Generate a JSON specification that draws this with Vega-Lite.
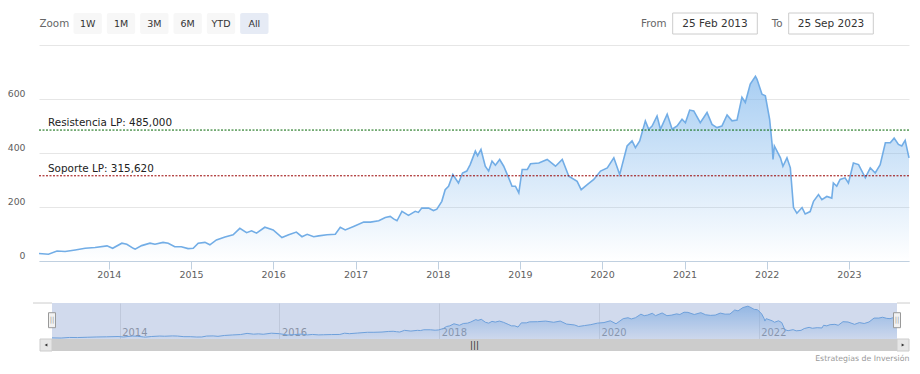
{
  "$schema": "https://vega.github.io/schema/vega-lite/v6.json",
  "background": "white",
  "padding": {"left": 7, "top": 12, "right": 0, "bottom": 0},
  "config": {
    "view": {"stroke": null},
    "font": "DejaVu Sans",
    "axis": {"labelFont": "DejaVu Sans", "titleFont": "DejaVu Sans"},
    "title": {"font": "DejaVu Sans"}
  },
  "datasets": {
    "prices": [
      {"date": "2013-02-25", "close": 28}, {"date": "2013-04-08", "close": 25}, {"date": "2013-05-16", "close": 37},
      {"date": "2013-06-21", "close": 35}, {"date": "2013-08-05", "close": 41}, {"date": "2013-09-18", "close": 47},
      {"date": "2013-11-01", "close": 50}, {"date": "2013-12-24", "close": 56}, {"date": "2014-01-18", "close": 47},
      {"date": "2014-02-28", "close": 66}, {"date": "2014-03-22", "close": 62}, {"date": "2014-04-20", "close": 47},
      {"date": "2014-04-28", "close": 44}, {"date": "2014-05-27", "close": 57}, {"date": "2014-07-03", "close": 66},
      {"date": "2014-07-25", "close": 62}, {"date": "2014-08-30", "close": 69}, {"date": "2014-09-22", "close": 66},
      {"date": "2014-10-21", "close": 53}, {"date": "2014-11-19", "close": 53}, {"date": "2014-12-19", "close": 46},
      {"date": "2015-01-11", "close": 47}, {"date": "2015-02-02", "close": 66}, {"date": "2015-03-04", "close": 69},
      {"date": "2015-03-26", "close": 60}, {"date": "2015-04-24", "close": 78}, {"date": "2015-06-01", "close": 89},
      {"date": "2015-07-07", "close": 97}, {"date": "2015-08-06", "close": 121}, {"date": "2015-09-05", "close": 105},
      {"date": "2015-09-27", "close": 112}, {"date": "2015-10-19", "close": 103}, {"date": "2015-11-25", "close": 125},
      {"date": "2016-01-01", "close": 115}, {"date": "2016-02-09", "close": 87}, {"date": "2016-03-10", "close": 97},
      {"date": "2016-04-13", "close": 107}, {"date": "2016-05-08", "close": 90}, {"date": "2016-05-31", "close": 99},
      {"date": "2016-06-29", "close": 90}, {"date": "2016-07-21", "close": 93}, {"date": "2016-08-27", "close": 97},
      {"date": "2016-10-03", "close": 99}, {"date": "2016-10-25", "close": 125}, {"date": "2016-11-16", "close": 115},
      {"date": "2016-12-23", "close": 128}, {"date": "2017-02-06", "close": 144}, {"date": "2017-03-08", "close": 144},
      {"date": "2017-04-14", "close": 149}, {"date": "2017-05-13", "close": 161}, {"date": "2017-06-04", "close": 165},
      {"date": "2017-06-19", "close": 156}, {"date": "2017-07-04", "close": 149}, {"date": "2017-07-26", "close": 184},
      {"date": "2017-08-24", "close": 169}, {"date": "2017-09-23", "close": 184}, {"date": "2017-10-07", "close": 180},
      {"date": "2017-10-22", "close": 196}, {"date": "2017-11-21", "close": 196}, {"date": "2017-12-13", "close": 187},
      {"date": "2017-12-28", "close": 192}, {"date": "2018-01-19", "close": 221}, {"date": "2018-02-03", "close": 264},
      {"date": "2018-02-18", "close": 277}, {"date": "2018-03-09", "close": 320}, {"date": "2018-04-03", "close": 289},
      {"date": "2018-04-21", "close": 326}, {"date": "2018-05-10", "close": 333}, {"date": "2018-05-25", "close": 357},
      {"date": "2018-06-17", "close": 407}, {"date": "2018-06-27", "close": 390}, {"date": "2018-07-12", "close": 413},
      {"date": "2018-07-31", "close": 351}, {"date": "2018-08-15", "close": 333}, {"date": "2018-08-30", "close": 370},
      {"date": "2018-09-14", "close": 355}, {"date": "2018-10-03", "close": 376}, {"date": "2018-10-21", "close": 351},
      {"date": "2018-11-12", "close": 308}, {"date": "2018-11-27", "close": 277}, {"date": "2018-12-12", "close": 277},
      {"date": "2018-12-27", "close": 252}, {"date": "2019-01-11", "close": 339}, {"date": "2019-02-03", "close": 339},
      {"date": "2019-02-17", "close": 360}, {"date": "2019-03-26", "close": 363}, {"date": "2019-05-02", "close": 376},
      {"date": "2019-06-08", "close": 351}, {"date": "2019-07-08", "close": 376}, {"date": "2019-08-06", "close": 314},
      {"date": "2019-09-12", "close": 295}, {"date": "2019-09-30", "close": 264}, {"date": "2019-10-27", "close": 283},
      {"date": "2019-11-25", "close": 302}, {"date": "2019-12-25", "close": 333}, {"date": "2020-01-24", "close": 345},
      {"date": "2020-02-22", "close": 382}, {"date": "2020-03-19", "close": 320}, {"date": "2020-04-21", "close": 426},
      {"date": "2020-05-13", "close": 445}, {"date": "2020-05-28", "close": 420}, {"date": "2020-06-16", "close": 445},
      {"date": "2020-07-11", "close": 519}, {"date": "2020-07-26", "close": 488}, {"date": "2020-08-10", "close": 500},
      {"date": "2020-09-01", "close": 537}, {"date": "2020-09-16", "close": 488}, {"date": "2020-10-16", "close": 544},
      {"date": "2020-11-07", "close": 488}, {"date": "2020-11-29", "close": 500}, {"date": "2020-12-21", "close": 525},
      {"date": "2021-01-05", "close": 512}, {"date": "2021-01-24", "close": 559}, {"date": "2021-02-11", "close": 556},
      {"date": "2021-03-12", "close": 512}, {"date": "2021-04-11", "close": 550}, {"date": "2021-05-03", "close": 506},
      {"date": "2021-05-25", "close": 494}, {"date": "2021-06-16", "close": 500}, {"date": "2021-07-09", "close": 541},
      {"date": "2021-07-31", "close": 519}, {"date": "2021-08-22", "close": 522}, {"date": "2021-09-13", "close": 606},
      {"date": "2021-09-28", "close": 587}, {"date": "2021-10-20", "close": 655}, {"date": "2021-11-12", "close": 684},
      {"date": "2021-11-19", "close": 673}, {"date": "2021-12-11", "close": 618}, {"date": "2021-12-26", "close": 612},
      {"date": "2022-01-14", "close": 525}, {"date": "2022-01-25", "close": 432}, {"date": "2022-01-29", "close": 376},
      {"date": "2022-02-04", "close": 426}, {"date": "2022-03-03", "close": 382}, {"date": "2022-03-14", "close": 351},
      {"date": "2022-04-01", "close": 382}, {"date": "2022-04-16", "close": 345}, {"date": "2022-04-30", "close": 198},
      {"date": "2022-05-15", "close": 177}, {"date": "2022-06-07", "close": 198}, {"date": "2022-06-21", "close": 174},
      {"date": "2022-07-13", "close": 183}, {"date": "2022-07-28", "close": 221}, {"date": "2022-08-19", "close": 246},
      {"date": "2022-09-03", "close": 227}, {"date": "2022-09-25", "close": 239}, {"date": "2022-10-17", "close": 233},
      {"date": "2022-10-24", "close": 289}, {"date": "2022-11-08", "close": 277}, {"date": "2022-11-23", "close": 302},
      {"date": "2022-12-15", "close": 308}, {"date": "2022-12-30", "close": 289}, {"date": "2023-01-21", "close": 363},
      {"date": "2023-02-13", "close": 357}, {"date": "2023-03-15", "close": 308}, {"date": "2023-04-06", "close": 345},
      {"date": "2023-04-28", "close": 326}, {"date": "2023-05-20", "close": 357}, {"date": "2023-06-12", "close": 438},
      {"date": "2023-07-04", "close": 438}, {"date": "2023-07-21", "close": 455}, {"date": "2023-08-09", "close": 432},
      {"date": "2023-08-24", "close": 426}, {"date": "2023-09-08", "close": 447}, {"date": "2023-09-25", "close": 382}
    ]
  },
  "bounds": "flush",
  "spacing": 11,
  "vconcat": [
    {
      "width": 870,
      "height": 21,
      "resolve": {"scale": {"x": "independent"}},
      "layer": [
        {
          "data": {"values": [{"label": "Zoom"}, {"label": "1W"}, {"label": "1M"}, {"label": "3M"}, {"label": "6M"}, {"label": "YTD"}, {"label": "All"}]},
          "layer": [
            {
              "transform": [{"filter": "datum.label !== 'Zoom'"}],
              "mark": {"type": "rect", "cornerRadius": 2},
              "encoding": {
                "x": {"field": "label", "type": "nominal", "sort": null,
                  "scale": {"type": "band", "domain": ["Zoom", "1W", "1M", "3M", "6M", "YTD", "All"], "range": [-1.3, 232], "paddingInner": 0.15, "paddingOuter": 0.075},
                  "axis": null},
                "color": {"condition": {"test": "datum.label === 'All'", "value": "#e6ebf5"}, "value": "#f7f7f7"}
              }
            },
            {
              "mark": {"type": "text", "font": "DejaVu Sans", "baseline": "middle"},
              "encoding": {
                "x": {"field": "label", "type": "nominal", "sort": null, "axis": null},
                "text": {"field": "label"},
                "color": {"condition": {"test": "datum.label === 'Zoom'", "value": "#666666"}, "value": "#333333"},
                "fontWeight": {"condition": {"test": "datum.label === 'All'", "value": "bold"}, "value": "normal"},
                "size": {"condition": {"test": "datum.label === 'Zoom'", "value": 10.3}, "value": 9.5}
              }
            }
          ]
        },
        {
          "data": {"values": [{"label": "From", "date": "25 Feb 2013"}, {"label": "To", "date": "25 Sep 2023"}]},
          "layer": [
            {
              "mark": {"type": "rect", "width": 84.6, "fill": "#ffffff", "stroke": "#cccccc", "strokeWidth": 1},
              "encoding": {
                "x": {"field": "label", "type": "nominal", "sort": null,
                  "scale": {"type": "point", "domain": ["From", "To"], "range": [676, 792], "padding": 0},
                  "axis": null}
              }
            },
            {
              "mark": {"type": "text", "font": "DejaVu Sans", "fontSize": 10.5, "color": "#333333", "baseline": "middle"},
              "encoding": {
                "x": {"field": "label", "type": "nominal", "sort": null, "axis": null},
                "text": {"field": "date"}
              }
            },
            {
              "mark": {"type": "text", "font": "DejaVu Sans", "fontSize": 10.3, "color": "#666666", "align": "right", "dx": -48.5, "baseline": "middle"},
              "encoding": {
                "x": {"field": "label", "type": "nominal", "sort": null, "axis": null},
                "text": {"field": "label"}
              }
            }
          ]
        }
      ]
    },
    {
      "bounds": "flush",
      "spacing": 42,
      "vconcat": [
        {
          "width": 870,
          "height": 216,
          "layer": [
            {
              "data": {"name": "prices"},
              "mark": {
                "type": "area",
                "line": {"color": "#72ade6", "strokeWidth": 1.6},
                "color": {"gradient": "linear", "x1": 0, "y1": 0, "x2": 0, "y2": 1,
                  "stops": [{"offset": 0, "color": "rgba(124,181,236,0.95)"}, {"offset": 1, "color": "rgba(124,181,236,0)"}]}
              },
              "encoding": {
                "x": {"field": "date", "type": "temporal",
                  "scale": {"domain": [{"year": 2013, "month": 2, "date": 25}, {"year": 2023, "month": 9, "date": 25}]},
                  "axis": {"title": null, "format": "%Y", "tickCount": {"interval": "year", "step": 1}, "grid": false,
                    "domainColor": "#c0d0e0", "tickColor": "#c0d0e0", "tickSize": 8, "labelPadding": 0,
                    "labelColor": "#606060", "labelFontSize": 9.5, "labelFlush": false, "labelOverlap": false}},
                "y": {"field": "close", "type": "quantitative",
                  "scale": {"domain": [0, 800], "nice": false},
                  "axis": {"title": null, "values": [0, 200, 400, 600, 800], "labelExpr": "datum.value == 800 ? '' : datum.label",
                    "grid": true, "gridColor": "#e6e6e6", "domain": false, "ticks": false, "labelPadding": 14,
                    "labelBaseline": "alphabetic", "labelOffset": -3, "labelColor": "#606060", "labelFontSize": 9.3}}
              }
            },
            {
              "data": {"values": [{"label": "Resistencia LP: 485,000", "value": 485}, {"label": "Soporte LP: 315,620", "value": 315.62}]},
              "layer": [
                {
                  "mark": {"type": "rule", "strokeDash": [2, 1.5], "strokeWidth": 1},
                  "encoding": {
                    "y": {"field": "value", "type": "quantitative"},
                    "color": {"field": "label", "type": "nominal",
                      "scale": {"domain": ["Resistencia LP: 485,000", "Soporte LP: 315,620"], "range": ["#006400", "#990000"]},
                      "legend": null}
                  }
                },
                {
                  "mark": {"type": "text", "align": "left", "baseline": "alphabetic", "dx": 9, "dy": -4, "font": "DejaVu Sans", "fontSize": 10.4, "color": "#222222"},
                  "encoding": {
                    "x": {"datum": {"year": 2013, "month": 2, "date": 25}, "type": "temporal"},
                    "y": {"field": "value", "type": "quantitative"},
                    "text": {"field": "label"}
                  }
                }
              ]
            }
          ]
        },
        {
          "bounds": "flush",
          "spacing": 0,
          "vconcat": [
            {
              "width": 870,
              "height": 36,
              "layer": [
                {
                  "data": {"name": "prices"},
                  "mark": {
                    "type": "area",
                    "line": {"color": "#72ade6", "strokeWidth": 1},
                    "color": {"gradient": "linear", "x1": 0, "y1": 0, "x2": 0, "y2": 1,
                      "stops": [{"offset": 0, "color": "rgba(124,181,236,0.95)"}, {"offset": 1, "color": "rgba(124,181,236,0.05)"}]}
                  },
                  "encoding": {
                    "x": {"field": "date", "type": "temporal",
                      "scale": {"domain": [{"year": 2013, "month": 2, "date": 25}, {"year": 2023, "month": 9, "date": 25}], "range": [13, 858]},
                      "axis": {"title": null, "orient": "bottom", "format": "%Y", "tickCount": {"interval": "year", "step": 2},
                        "grid": true, "gridColor": "#e6e6e6", "domain": false, "ticks": false, "tickSize": 0,
                        "labelAlign": "left", "labelBaseline": "alphabetic", "labelPadding": -4, "labelOffset": 2,
                        "labelColor": "#999999", "labelFontSize": 9.9, "labelFlush": false, "labelOverlap": false}},
                    "y": {"field": "close", "type": "quantitative", "scale": {"domain": [5, 750], "zero": false, "nice": false}, "axis": null}
                  }
                },
                {
                  "data": {"values": [{}]},
                  "layer": [
                    {
                      "mark": {"type": "rect", "color": "#6685c2", "opacity": 0.3},
                      "encoding": {
                        "x": {"datum": {"year": 2013, "month": 2, "date": 25}, "type": "temporal"},
                        "x2": {"datum": {"year": 2023, "month": 9, "date": 25}}
                      }
                    },
                    {
                      "mark": {"type": "rule", "color": "#cccccc", "strokeWidth": 1, "xOffset": -19},
                      "encoding": {
                        "x": {"datum": {"year": 2013, "month": 2, "date": 25}, "type": "temporal"},
                        "x2": {"datum": {"year": 2013, "month": 2, "date": 25}},
                        "y": {"datum": 750}
                      }
                    },
                    {
                      "mark": {"type": "rule", "color": "#cccccc", "strokeWidth": 1, "x2Offset": 13},
                      "encoding": {
                        "x": {"datum": {"year": 2023, "month": 9, "date": 25}, "type": "temporal"},
                        "x2": {"datum": {"year": 2023, "month": 9, "date": 25}},
                        "y": {"datum": 750}
                      }
                    },
                    {
                      "mark": {"type": "rect", "fill": "#f2f2f2", "stroke": "#999999", "strokeWidth": 1, "xOffset": -3.5, "x2Offset": 3.5},
                      "encoding": {
                        "x": {"datum": {"year": 2013, "month": 2, "date": 25}, "type": "temporal"},
                        "x2": {"datum": {"year": 2013, "month": 2, "date": 25}},
                        "y": {"datum": 549},
                        "y2": {"datum": 239}
                      }
                    },
                    {
                      "mark": {"type": "rect", "fill": "#f2f2f2", "stroke": "#999999", "strokeWidth": 1, "xOffset": -3.5, "x2Offset": 3.5},
                      "encoding": {
                        "x": {"datum": {"year": 2023, "month": 9, "date": 25}, "type": "temporal"},
                        "x2": {"datum": {"year": 2023, "month": 9, "date": 25}},
                        "y": {"datum": 549},
                        "y2": {"datum": 239}
                      }
                    },
                    {
                      "mark": {"type": "text", "text": "||", "fontSize": 7, "color": "#999999", "baseline": "middle"},
                      "encoding": {
                        "x": {"datum": {"year": 2013, "month": 2, "date": 25}, "type": "temporal"},
                        "y": {"datum": 394}
                      }
                    },
                    {
                      "mark": {"type": "text", "text": "||", "fontSize": 7, "color": "#999999", "baseline": "middle"},
                      "encoding": {
                        "x": {"datum": {"year": 2023, "month": 9, "date": 25}, "type": "temporal"},
                        "y": {"datum": 394}
                      }
                    }
                  ]
                }
              ]
            },
            {
              "width": 870,
              "height": 12,
              "title": {"text": "Estrategias de Inversión", "orient": "bottom", "anchor": "end", "fontSize": 7.8, "color": "#999999", "fontWeight": "normal", "offset": 3},
              "data": {"values": [{}]},
              "layer": [
                {
                  "mark": {"type": "rect", "color": "#cccccc"},
                  "encoding": {
                    "x": {"datum": {"year": 2013, "month": 2, "date": 25}, "type": "temporal",
                      "scale": {"domain": [{"year": 2013, "month": 2, "date": 25}, {"year": 2023, "month": 9, "date": 25}], "range": [13, 858]},
                      "axis": null},
                    "x2": {"datum": {"year": 2023, "month": 9, "date": 25}}
                  }
                },
                {
                  "mark": {"type": "rect", "fill": "#e6e6e6", "stroke": "#cccccc", "strokeWidth": 1, "xOffset": -12},
                  "encoding": {
                    "x": {"datum": {"year": 2013, "month": 2, "date": 25}, "type": "temporal"},
                    "x2": {"datum": {"year": 2013, "month": 2, "date": 25}}
                  }
                },
                {
                  "mark": {"type": "rect", "fill": "#e6e6e6", "stroke": "#cccccc", "strokeWidth": 1, "x2Offset": 12},
                  "encoding": {
                    "x": {"datum": {"year": 2023, "month": 9, "date": 25}, "type": "temporal"},
                    "x2": {"datum": {"year": 2023, "month": 9, "date": 25}}
                  }
                },
                {
                  "mark": {"type": "point", "shape": "triangle-left", "filled": true, "color": "#333333", "size": 10, "xOffset": -6, "opacity": 1},
                  "encoding": {"x": {"datum": {"year": 2013, "month": 2, "date": 25}, "type": "temporal"}}
                },
                {
                  "mark": {"type": "point", "shape": "triangle-right", "filled": true, "color": "#333333", "size": 10, "xOffset": 6, "opacity": 1},
                  "encoding": {"x": {"datum": {"year": 2023, "month": 9, "date": 25}, "type": "temporal"}}
                },
                {
                  "mark": {"type": "text", "text": "|||", "fontSize": 9, "color": "#333333", "baseline": "middle"},
                  "encoding": {"x": {"datum": {"year": 2018, "month": 6, "date": 11}, "type": "temporal"}}
                }
              ]
            }
          ]
        }
      ]
    }
  ]
}
